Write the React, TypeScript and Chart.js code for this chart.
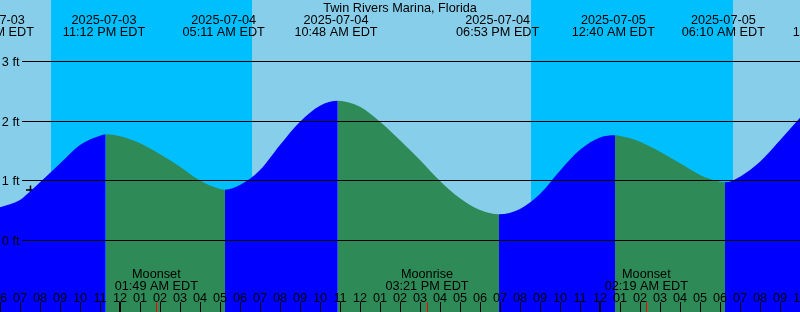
import React, { useEffect, useRef } from "react";
import { Chart, registerables } from "chart.js";

Chart.register(...registerables);

// Time axis: hours since 2025-07-03 00:00 EDT
const viewStartHour = 18;
const viewEndHour = 58;

const chartTitle = "Twin Rivers Marina, Florida";

// Tide level (ft)
const tideHours = [
  18.0, 19.0, 19.5, 20.0, 21.0, 22.0, 23.0, 23.285, 24.0, 25.0, 26.0, 27.0, 28.0,
  29.0, 29.25, 30.0, 31.0, 32.0, 33.0, 34.0, 34.89, 36.0, 37.0, 38.0, 39.0, 40.0,
  41.0, 42.0, 42.95, 44.0, 45.0, 46.0, 47.0, 48.0, 48.75, 49.0, 50.0, 51.0, 52.0,
  53.0, 54.0, 54.25, 55.0, 56.0, 57.0, 58.0,
];
const tideFeet = [
  0.556, 0.679, 0.82, 0.975, 1.29, 1.6, 1.756, 1.78, 1.746, 1.63, 1.445, 1.237, 1.005,
  0.863, 0.851, 0.93, 1.18, 1.6, 1.99, 2.26, 2.343, 2.24, 1.99, 1.68, 1.35, 0.997,
  0.707, 0.511, 0.439, 0.53, 0.78, 1.17, 1.52, 1.726, 1.763, 1.75, 1.656, 1.488, 1.293,
  1.098, 0.985, 0.975, 1.07, 1.32, 1.68, 2.058,
];

// High / low tide labels along the top
const tideEventHours = [17.617, 23.2, 29.183, 34.8, 42.883, 48.667, 54.167, 59.7];
const tideEventDates = [
  "2025-07-03", "2025-07-03", "2025-07-04", "2025-07-04",
  "2025-07-04", "2025-07-05", "2025-07-05", "2025-07-05",
];
const tideEventTimes = [
  "05:37 PM EDT", "11:12 PM EDT", "05:11 AM EDT", "10:48 AM EDT",
  "06:53 PM EDT", "12:40 AM EDT", "06:10 AM EDT", "11:42 AM EDT",
];

// Moon events along the bottom
const moonEventHours = [25.817, 39.35, 50.317];
const moonEventNames = ["Moonset", "Moonrise", "Moonset"];
const moonEventTimes = ["01:49 AM EDT", "03:21 PM EDT", "02:19 AM EDT"];

// Night intervals
const sunsetHours = [20.55, 44.55];
const sunriseHours = [30.585, 54.65];

// Level grid
const levelTicks = [0, 1, 2, 3];
const levelLabels = ["0 ft", "1 ft", "2 ft", "3 ft"];

// "+" marker
const markerHours = [19.525];
const markerFeet = [0.846];

const DAY = "#87CEEB";
const NIGHT = "#00BFFF";
const RISING = "#0000FF";
const FALLING = "#2E8B57";
const FONT = '12.7px "Liberation Sans", Arial, sans-serif';

function hourLabel(h: number): string {
  const v = ((h % 12) + 12) % 12;
  const n = v === 0 ? 12 : v;
  return n < 10 ? "0" + n : String(n);
}

const decorPlugin = {
  id: "tideDecor",
  beforeDatasetsDraw(chart: any) {
    const { ctx } = chart;
    const x = chart.scales.x;
    ctx.save();
    ctx.fillStyle = DAY;
    ctx.fillRect(0, 0, chart.width, chart.height);
    ctx.fillStyle = NIGHT;
    for (let i = 0; i < sunsetHours.length; i++) {
      const x0 = Math.round(x.getPixelForValue(sunsetHours[i]));
      const x1 = Math.round(x.getPixelForValue(sunriseHours[i]));
      ctx.fillRect(x0, 0, x1 - x0, chart.height);
    }
    ctx.restore();
  },
  afterDatasetsDraw(chart: any) {
    const { ctx } = chart;
    const x = chart.scales.x;
    const y = chart.scales.y;
    const W = chart.width;
    ctx.save();
    // grid lines + level labels
    ctx.fillStyle = "#000";
    ctx.font = FONT;
    ctx.textAlign = "right";
    ctx.textBaseline = "alphabetic";
    for (let i = 0; i < levelTicks.length; i++) {
      const py = Math.floor(y.getPixelForValue(levelTicks[i]));
      ctx.fillRect(22, py, W - 22, 1);
      ctx.fillText(levelLabels[i], 19.5, py + 5);
    }
    // title
    ctx.textAlign = "center";
    ctx.fillText(chartTitle, 400, 12);
    // tide events
    for (let i = 0; i < tideEventHours.length; i++) {
      const px = x.getPixelForValue(tideEventHours[i]);
      ctx.fillText(tideEventDates[i], px, 24);
      ctx.fillText(tideEventTimes[i], px, 36);
    }
    // moon events
    for (let i = 0; i < moonEventHours.length; i++) {
      const px = x.getPixelForValue(moonEventHours[i]);
      ctx.fillText(moonEventNames[i], px, 278);
      ctx.fillText(moonEventTimes[i], px, 290);
    }
    // hour labels and ticks
    for (let h = Math.ceil(viewStartHour); h <= Math.floor(viewEndHour); h++) {
      const px = Math.round(x.getPixelForValue(h));
      ctx.fillStyle = "#000";
      ctx.fillText(hourLabel(h), px, 302);
      if (h % 24 === 0) ctx.fillRect(px - 1, 302, 2, 10);
      else ctx.fillRect(px, 302, 1, 10);
    }
    ctx.fillStyle = "#FF0000";
    for (let i = 0; i < moonEventHours.length; i++) {
      const px = Math.floor(x.getPixelForValue(moonEventHours[i]));
      ctx.fillRect(px, 302, 1, 10);
    }
    ctx.restore();
  },
};

export default function App() {
  const ref = useRef<HTMLCanvasElement | null>(null);
  useEffect(() => {
    if (!ref.current) return;
    const tidePoints = tideHours.map((h, i) => ({ x: h, y: tideFeet[i] }));
    const markerPoints = markerHours.map((h, i) => ({ x: h, y: markerFeet[i] }));
    const chart = new Chart(ref.current, {
      type: "line",
      data: {
        datasets: [
          {
            data: tidePoints,
            borderColor: "rgba(0,0,0,0)",
            borderWidth: 0,
            pointRadius: 0,
            fill: "start",
            backgroundColor: RISING,
            cubicInterpolationMode: "monotone",
            segment: {
              backgroundColor: (c: any) =>
                c.p1.parsed.y >= c.p0.parsed.y ? RISING : FALLING,
            },
          } as any,
          {
            data: markerPoints,
            showLine: false,
            pointStyle: "cross",
            pointRadius: 4.5,
            pointBorderWidth: 1.5,
            pointBorderColor: "#000",
            borderColor: "#000",
            fill: false,
          } as any,
        ],
      },
      options: {
        animation: false,
        responsive: false,
        devicePixelRatio: 1,
        events: [],
        layout: { padding: 0, autoPadding: false },
        plugins: {
          legend: { display: false },
          tooltip: { enabled: false },
          title: { display: false },
        },
        scales: {
          x: { type: "linear", min: viewStartHour, max: viewEndHour, display: false },
          y: { type: "linear", min: -1.1983, max: 4.0307, display: false },
        },
      } as any,
      plugins: [decorPlugin],
    });
    return () => chart.destroy();
  }, []);
  return (
    <div style={{ position: "absolute", left: 0, top: 0, width: 800, height: 312 }}>
      <canvas ref={ref} width={800} height={312} style={{ display: "block" }} />
    </div>
  );
}
